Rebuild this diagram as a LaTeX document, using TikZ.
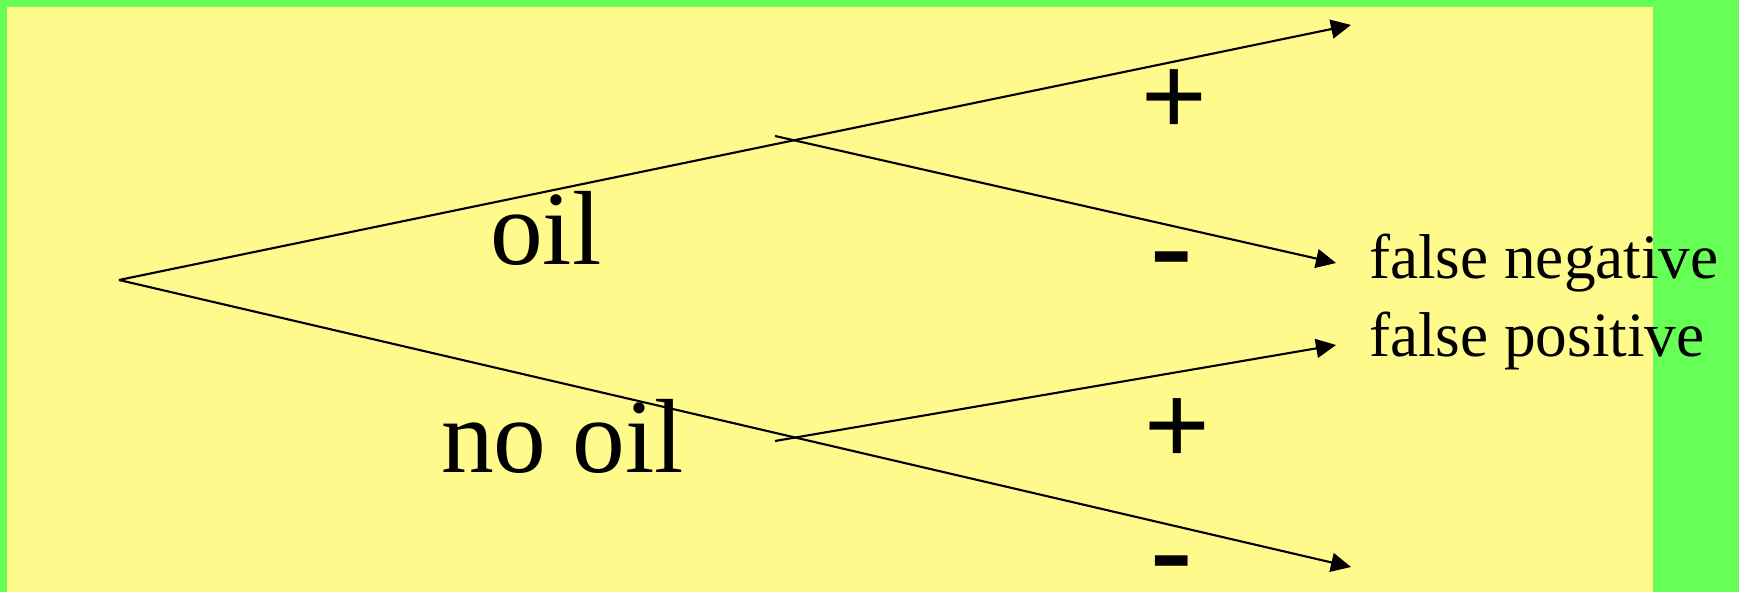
\documentclass[tikz,border=0pt]{standalone}
\usepackage{fontspec}
\setmainfont{Liberation Serif}
\newfontfamily\signfont{Liberation Sans}
\usetikzlibrary{arrows.meta}
\definecolor{slidegreen}{RGB}{102,255,85}
\definecolor{slideyellow}{RGB}{255,250,140}

\begin{document}
\begin{tikzpicture}[x=0.1mm,y=-0.1mm,>={Triangle[length=2mm,width=1.9mm]},line width=0.6pt,
    every node/.style={inner sep=0pt,anchor=base west},
    biglabel/.style={font=\fontsize{30}{36}\selectfont},
    smalllabel/.style={font=\fontsize{18}{22}\selectfont},
    plussign/.style={font=\signfont\fontsize{32}{38}\selectfont},
    minussign/.style={font=\signfont\fontsize{38}{44}\selectfont}]
    \useasboundingbox (0,0) rectangle (1739,592);
    \fill[slidegreen] (0,0) rectangle (1739,592);
    \fill[slideyellow] (7,7) rectangle (1653,592);
    \coordinate (root) at (119,280);
    \coordinate (oilend) at (1351,25);
    \coordinate (nooilend) at (1351,567);
    \coordinate (oilsplit) at (775,136);
    \coordinate (nooilsplit) at (775,441);
    \coordinate (negend) at (1336,263);
    \coordinate (posend) at (1336,345);
    \draw[->] (root) -- (oilend);
    \draw[->] (root) -- (nooilend);
    \draw[->] (oilsplit) -- (negend);
    \draw[->] (nooilsplit) -- (posend);
    \node[biglabel] (oil) at (489,265) {oil};
    \node[biglabel] (nooil) at (440,473) {no oil};
    \node[plussign] (oilplus) at (1140,135) {+};
    \node[minussign] (oilminus) at (1148,293) {-};
    \node[plussign] (nooilplus) at (1143,464) {+};
    \node[minussign] (nooilminus) at (1148,597) {-};
    \node[smalllabel] (falseneg) at (1368,279) {false negative};
    \node[smalllabel] (falsepos) at (1368,357) {false positive};
\end{tikzpicture}
\end{document}
